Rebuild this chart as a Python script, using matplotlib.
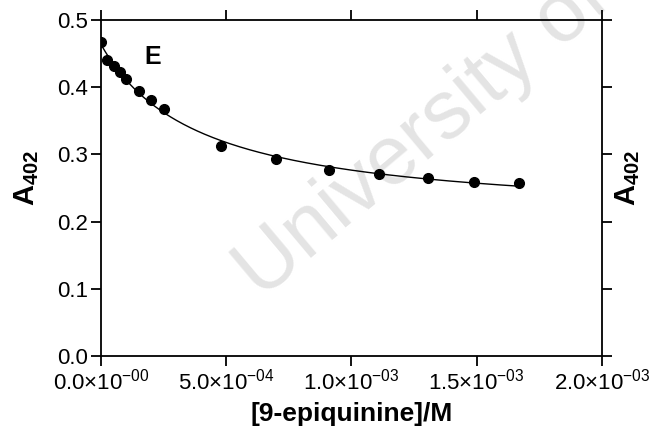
import numpy as np
import matplotlib.pyplot as plt
from matplotlib.ticker import FixedLocator, FuncFormatter

plt.rcParams['font.family'] = ['Liberation Sans', 'DejaVu Sans']
plt.rcParams['mathtext.fontset'] = 'custom'
plt.rcParams['mathtext.rm'] = 'Liberation Sans'
plt.rcParams['mathtext.it'] = 'Liberation Sans'
plt.rcParams['mathtext.bf'] = 'Liberation Sans:bold'

# titration data: [9-epiquinine] (M) vs absorbance at 402 nm
conc = [0.0, 2.5e-5, 5.0e-5, 7.5e-5, 1.0e-4, 1.5e-4, 2.0e-4, 2.5e-4,
        4.8e-4, 7.0e-4, 9.1e-4, 1.11e-3, 1.305e-3, 1.49e-3, 1.67e-3]
a402 = [0.467, 0.440, 0.432, 0.423, 0.412, 0.394, 0.381, 0.368,
        0.3125, 0.293, 0.277, 0.271, 0.265, 0.259, 0.257]
xticks = [0.0, 5.0e-4, 1.0e-3, 1.5e-3, 2.0e-3]
xticklabels = ['0.0', '5.0', '1.0', '1.5', '2.0']
xexps = ['-00', '-04', '-03', '-03', '-03']
yticks = [0.0, 0.1, 0.2, 0.3, 0.4, 0.5]

x = np.array(conc)
y = np.array(a402)

# hyperbolic binding fit, A = A0 + dA*x/(Kd + x), fitted to the points
best = None
for kd in np.linspace(1e-5, 2e-3, 2000):
    M = np.column_stack([np.ones_like(x), x / (kd + x)])
    coef, res, *_ = np.linalg.lstsq(M, y, rcond=None)
    err = np.sum((M @ coef - y) ** 2)
    if best is None or err < best[0]:
        best = (err, kd, coef)
_, kd, coef = best
xf = np.linspace(0, x.max(), 300)
yf = coef[0] + coef[1] * xf / (kd + xf)

fig = plt.figure(figsize=(6.52, 4.44), dpi=100)
ax = fig.add_axes([0.155, 0.198, 0.768, 0.757])

# faint watermark behind everything
fig.text(0.400, 0.324, 'University of', fontsize=60, color='#e4e4e4',
         rotation=40, rotation_mode='anchor', ha='left', va='baseline',
         zorder=-1)
ax.patch.set_alpha(0)

ax.plot(xf, yf, color='black', lw=1.0, zorder=3)
ax.plot(x, y, 'o', color='black', ms=7, zorder=4)

ax.set_xlim(0, 2.0e-3)
ax.set_ylim(0, 0.5)
ax.xaxis.set_major_locator(FixedLocator(xticks))
ax.yaxis.set_major_locator(FixedLocator(yticks))
ax.set_xticklabels([r'$\mathrm{%s{\times}10^{%s}}$' % (m, e)
                    for m, e in zip(xticklabels, xexps)])
ax.yaxis.set_major_formatter(FuncFormatter(lambda v, p: f'{v:.1f}'))

for s in ax.spines.values():
    s.set_linewidth(1.3)
ax.tick_params(direction='out', length=7, width=1.3, labelsize=16,
               top=True, right=True, labelright=False, labeltop=False)
ax.tick_params(axis='x', pad=2)
ax.tick_params(axis='y', pad=2.5)

ax.set_xlabel('[9-epiquinine]/M', fontsize=19, fontweight='bold')
ax.xaxis.set_label_coords(0.5, -0.137)
ax.set_ylabel(r'$\mathbf{A_{402}}$', fontsize=21)
ax.yaxis.set_label_coords(-0.12, 0.53)
fig.text(0.962, 0.60, r'$\mathbf{A_{402}}$', fontsize=21, rotation=90,
         ha='center', va='center')

ax.text(0.087, 0.89, 'E', transform=ax.transAxes, fontsize=18,
        fontweight='bold', ha='left', va='center')

fig.savefig('out.png', dpi=100)
